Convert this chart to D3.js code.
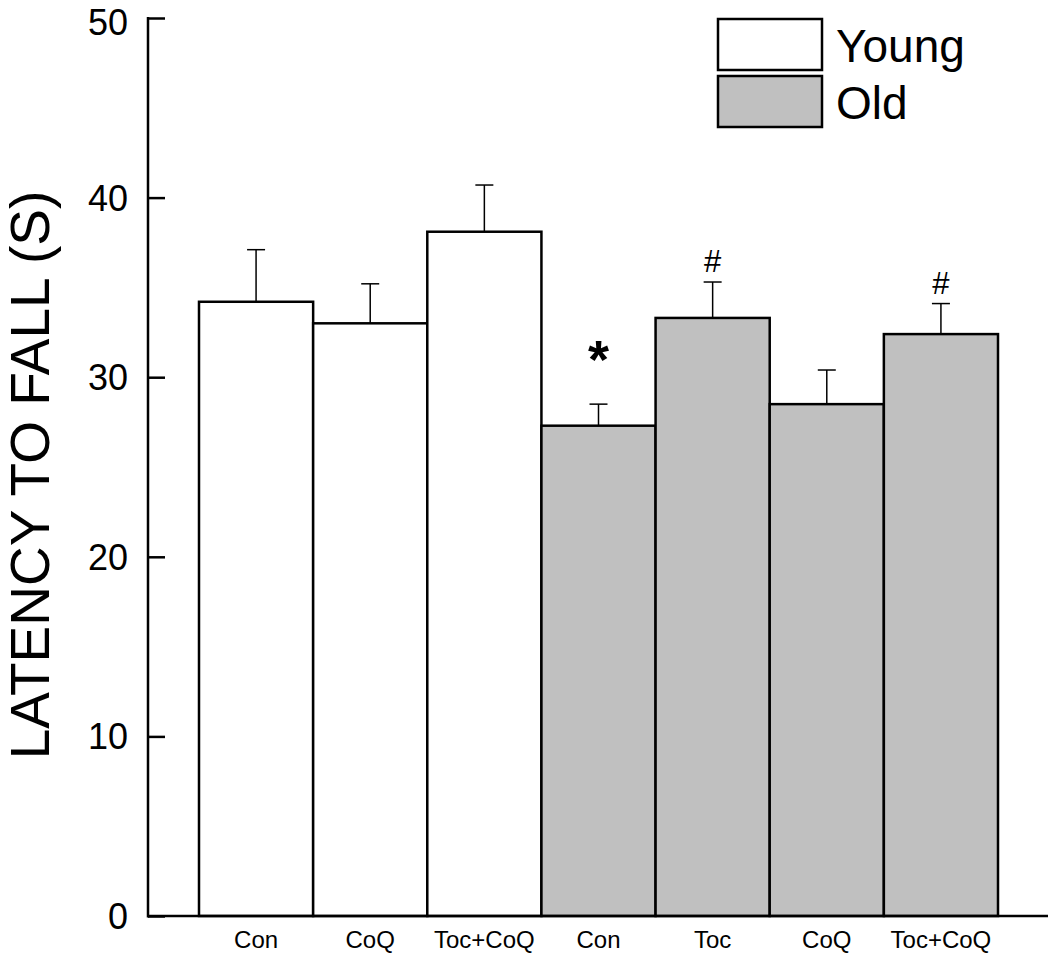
<!DOCTYPE html>
<html><head><meta charset="utf-8">
<script src="https://cdn.jsdelivr.net/npm/d3@7"></script>
<style>body{margin:0;background:#fff;} svg{display:block;font-family:Arial,"Liberation Sans",sans-serif;}</style>
</head><body>
<script>
const categories = ["Con","CoQ","Toc+CoQ","Con","Toc","CoQ","Toc+CoQ"];
const groups = ["Young","Young","Young","Old","Old","Old","Old"];
const means = [34.2, 33.0, 38.1, 27.3, 33.3, 28.5, 32.4];
const errors = [2.9, 2.2, 2.6, 1.2, 2.0, 1.9, 1.7];
const marks = ["", "", "", "*", "#", "", "#"];
const yTicks = [0,10,20,30,40,50];
const legendItems = ["Young","Old"];
const colors = {Young:"#ffffff", Old:"#c0c0c0"};

const W=1050,H=954;
const svg=d3.select("body").append("svg").attr("width",W).attr("height",H);
const y=d3.scaleLinear().domain([0,50]).range([916,18]);
const x=d3.scaleBand().domain(d3.range(categories.length)).range([199,998]).padding(0);
const axisX=148;

// bars
svg.append("g").selectAll("rect").data(means).join("rect")
 .attr("x",(d,i)=>x(i)).attr("y",d=>y(d)).attr("width",x.bandwidth()).attr("height",d=>y(0)-y(d))
 .attr("fill",(d,i)=>colors[groups[i]]).attr("stroke","#000").attr("stroke-width",2.5);

// error bars
const eg=svg.append("g").attr("stroke","#000").attr("stroke-width",1.5);
means.forEach((m,i)=>{
  const cx=x(i)+x.bandwidth()/2;
  eg.append("line").attr("x1",cx).attr("x2",cx).attr("y1",y(m)).attr("y2",y(m+errors[i]));
  eg.append("line").attr("x1",cx-9).attr("x2",cx+9).attr("y1",y(m+errors[i])).attr("y2",y(m+errors[i]));
});

// significance marks
means.forEach((m,i)=>{
  if(!marks[i])return;
  const cx=x(i)+x.bandwidth()/2;
  if(marks[i]==="*"){
    svg.append("text").attr("x",cx).attr("y",y(m+errors[i])-26).attr("text-anchor","middle")
      .attr("font-size",54).attr("font-weight","bold").text("*");
  } else {
    svg.append("text").attr("x",cx).attr("y",y(m+errors[i])-10).attr("text-anchor","middle")
      .attr("font-size",31).text("#");
  }
});

// y axis
const ya=svg.append("g").attr("transform",`translate(${axisX},0)`)
 .call(d3.axisRight(y).tickValues(yTicks).tickSize(17).tickFormat(""));
ya.select(".domain").remove();
ya.selectAll("line").attr("stroke","#000").attr("stroke-width",2.5);
svg.append("line").attr("x1",axisX).attr("x2",axisX).attr("y1",y(50)-1).attr("y2",y(0)+1.5).attr("stroke","#000").attr("stroke-width",2.5);
svg.append("g").selectAll("text").data(yTicks).join("text")
 .attr("x",axisX-20).attr("y",d=>Math.max(y(d),22)).attr("dy","0.36em").attr("text-anchor","end")
 .attr("font-size",36).text(d=>d);

// x axis
svg.append("line").attr("x1",axisX).attr("x2",1048).attr("y1",y(0)).attr("y2",y(0)).attr("stroke","#000").attr("stroke-width",2.5);
svg.append("g").selectAll("text").data(categories).join("text")
 .attr("x",(d,i)=>x(i)+x.bandwidth()/2).attr("y",948).attr("text-anchor","middle")
 .attr("font-size",24).text(d=>d);

// y title
svg.append("text").attr("transform",`translate(49,475) rotate(-90)`)
 .attr("text-anchor","middle").attr("font-size",55).text("LATENCY TO FALL (S)");

// legend
const lg=svg.append("g");
legendItems.forEach((k,i)=>{
  const ly=19+i*57;
  lg.append("rect").attr("x",718).attr("y",ly).attr("width",104).attr("height",51)
    .attr("fill",colors[k]).attr("stroke","#000").attr("stroke-width",2.5);
  lg.append("text").attr("x",836).attr("y",ly+26).attr("dy","0.36em").attr("font-size",46).text(k);
});
</script>
</body></html>
